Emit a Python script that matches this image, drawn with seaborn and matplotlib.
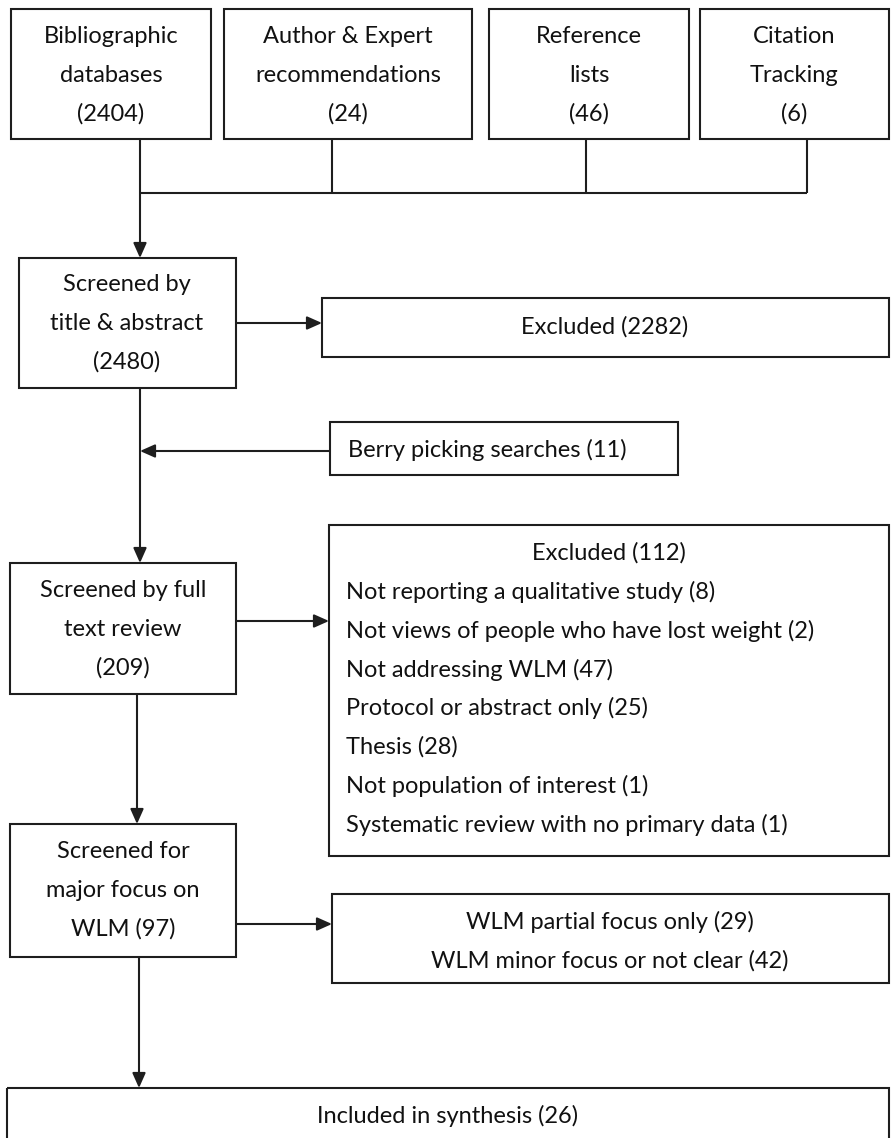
import matplotlib
matplotlib.use("Agg")
import matplotlib.pyplot as plt
import matplotlib.patches as patches
import seaborn as sns

# Flow diagram content
source_names = ["Bibliographic\ndatabases", "Author & Expert\nrecommendations", "Reference\nlists", "Citation\nTracking"]
source_counts = [2404, 24, 46, 6]
screen_names = ["Screened by\ntitle & abstract", "Screened by full\ntext review", "Screened for\nmajor focus on\nWLM"]
screen_counts = [2480, 209, 97]
excluded_title_abs = 2282
berry_count = 11
excluded_full_text = 112
full_text_reasons = ["Not reporting a qualitative study", "Not views of people who have lost weight",
                     "Not addressing WLM", "Protocol or abstract only", "Thesis",
                     "Not population of interest", "Systematic review with no primary data"]
full_text_counts = [8, 2, 47, 25, 28, 1, 1]
focus_reasons = ["WLM partial focus only", "WLM minor focus or not clear"]
focus_counts = [29, 42]
included_count = 26

sns.set_theme(style="white")
plt.rcParams['font.family'] = ['Lato', 'DejaVu Sans']

W, H = 891, 1138
fig = plt.figure(figsize=(W / 100, H / 100), dpi=100)
ax = fig.add_axes([0, 0, 1, 1])
ax.set_xlim(0, W)
ax.set_ylim(H, 0)
ax.axis("off")

LC = "#1e1e1e"
TC = "#111111"
LW = 1.5
FS = 17
LS = 39  # line spacing in px


def box(x0, y0, x1, y1):
    ax.add_patch(patches.Rectangle((x0, y0), x1 - x0, y1 - y0, fill=False, ec=LC, lw=LW))


def lines_text(cx, cy, lines):
    n = len(lines)
    for i, t in enumerate(lines):
        y = cy + (i - (n - 1) / 2) * LS
        ax.text(cx, y, t, ha="center", va="center", fontsize=FS, color=TC)


def line(xs, ys):
    ax.plot(xs, ys, color=LC, lw=LW, solid_capstyle="butt")


def arrow(x0, y0, x1, y1):
    ax.annotate("", xy=(x1, y1), xytext=(x0, y0),
                arrowprops=dict(arrowstyle="-|>,head_length=0.45,head_width=0.2", color=LC, lw=LW,
                                shrinkA=0, shrinkB=0, mutation_scale=20))


# sources row
src_boxes = [(11, 211), (224, 472), (489, 689), (700, 889)]
src_tick_x = [140, 332, 586, 807]
for (x0, x1), name, n, tx in zip(src_boxes, source_names, source_counts, src_tick_x):
    box(x0, 9, x1, 139)
    lines_text((x0 + x1) / 2, 75, name.split("\n") + [f"({n})"])
    if tx != 140:
        line([tx, tx], [139, 193])
line([140, 807], [193, 193])
arrow(140, 139, 140, 258)

# screening by title & abstract
box(19, 258, 236, 388)
lines_text(127, 323, screen_names[0].split("\n") + [f"({screen_counts[0]})"])
arrow(236, 323, 322, 323)
box(322, 298, 889, 357)
lines_text(605, 327, [f"Excluded ({excluded_title_abs})"])

# berry picking
arrow(140, 388, 140, 563)
box(330, 422, 678, 475)
ax.text(348, 450, f"Berry picking searches ({berry_count})", ha="left", va="center", fontsize=FS, color=TC)
arrow(330, 451, 140, 451)

# full text
box(10, 563, 236, 694)
lines_text(123, 629, screen_names[1].split("\n") + [f"({screen_counts[1]})"])
arrow(236, 621, 329, 621)
box(329, 525, 889, 856)
ax.text(609, 553, f"Excluded ({excluded_full_text})", ha="center", va="center", fontsize=FS, color=TC)
for i, (r, c) in enumerate(zip(full_text_reasons, full_text_counts)):
    ax.text(346, 592 + i * 38.8, f"{r} ({c})", ha="left", va="center", fontsize=FS, color=TC)

# major focus
arrow(137, 694, 137, 824)
box(10, 824, 236, 957)
name = screen_names[2].split("\n")
lines_text(123, 890, name[:2] + [f"{name[2]} ({screen_counts[2]})"])
arrow(236, 924, 332, 924)
box(332, 894, 889, 983)
lines_text(610, 941, [f"{r} ({c})" for r, c in zip(focus_reasons, focus_counts)])

# included
arrow(139, 957, 139, 1088)
box(7, 1088, 889, 1160)
ax.text(448, 1116, f"Included in synthesis ({included_count})", ha="center", va="center", fontsize=FS, color=TC)

fig.savefig("out.png", dpi=100)
